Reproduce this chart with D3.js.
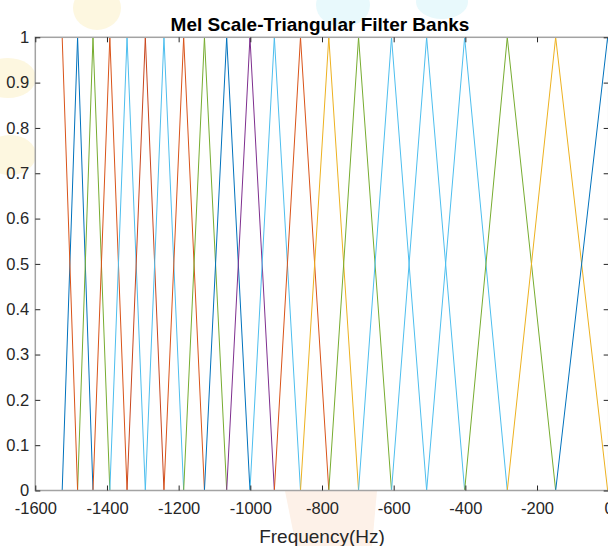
<!DOCTYPE html>
<html>
<head>
<meta charset="utf-8">
<script src="https://d3js.org/d3.v7.min.js"></script>
<style>
  body { margin: 0; background: #fff; }
  svg { display: block; font-family: "Liberation Sans", Arial, sans-serif; }
</style>
</head>
<body>
<svg width="608" height="546"></svg>
<script>
// filter peak frequencies (Hz)
var peakHz = [-1525, -1482, -1439, -1392, -1344, -1293, -1241, -1186, -1128, -1066,
              -1001, -933, -860, -781, -698, -606, -508, -402, -283, -148, -3];
var peakColor = ["#D95319", "#0072BD", "#77AC30", "#D95319", "#4DBEEE", "#C8461E", "#4DBEEE",
                 "#D95319", "#77AC30", "#0072BD", "#7E2F8E", "#4DBEEE", "#D95319", "#EDB120",
                 "#77AC30", "#4DBEEE", "#4DBEEE", "#4DBEEE", "#77AC30", "#EDB120", "#0072BD"];
var hzStart = -1525, hzEnd = 0, lastFootHz = 160;

var xTicks = [-1600, -1400, -1200, -1000, -800, -600, -400, -200, 0];
var xTickLabels = ["-1600", "-1400", "-1200", "-1000", "-800", "-600", "-400", "-200", "0"];
var yTicks = [0, 0.1, 0.2, 0.3, 0.4, 0.5, 0.6, 0.7, 0.8, 0.9, 1];
var yTickLabels = ["0", "0.1", "0.2", "0.3", "0.4", "0.5", "0.6", "0.7", "0.8", "0.9", "1"];

var svg = d3.select("svg");

// axes box in pixels (window.top is reserved, so plot* names)
var plotL = 35.3, plotR = 608.7, plotT = 37.3, plotB = 490.5;

var x = d3.scaleLinear().domain([-1600, 0]).range([plotL, plotR]);
var y = d3.scaleLinear().domain([0, 1]).range([plotB, plotT]);

// faint watermark blobs behind the axes
var blobs = svg.append("g").attr("class", "blobs");
blobs.append("ellipse").attr("cx", 97).attr("cy", 8).attr("rx", 24).attr("ry", 22).attr("fill", "#fdf7e0");
blobs.append("ellipse").attr("cx", 8).attr("cy", 78).attr("rx", 28).attr("ry", 20).attr("fill", "#fdf7e0");
blobs.append("ellipse").attr("cx", 10).attr("cy", 155).attr("rx", 26).attr("ry", 20).attr("fill", "#fdf7e0");
blobs.append("ellipse").attr("cx", 343).attr("cy", 5).attr("rx", 27).attr("ry", 22).attr("fill", "#e8f9fc");
blobs.append("ellipse").attr("cx", 442).attr("cy", 2).attr("rx", 26).attr("ry", 17).attr("fill", "#e8f9fc");
blobs.append("path").attr("d", "M285,491 L377,491 L372,546 L296,546 Z").attr("fill", "#fdf1e8");

svg.append("rect")
    .attr("x", plotL).attr("y", plotT)
    .attr("width", plotR - plotL).attr("height", plotB - plotT)
    .attr("fill", "#fff");

svg.append("clipPath").attr("id", "plotclip")
  .append("rect")
    .attr("x", plotL).attr("y", plotT - 1)
    .attr("width", plotR - plotL).attr("height", plotB - plotT + 2);

function filterPoints(i) {
  var n = peakHz.length;
  var lo = i > 0 ? peakHz[i - 1] : null;
  var hi = i < n - 1 ? peakHz[i + 1] : lastFootHz;
  var p = [];
  if (lo !== null) {
    if (lo > hzStart) p.push([hzStart, 0]);
    p.push([lo, 0]);
  }
  p.push([peakHz[i], 1]);
  p.push([hi, 0]);
  if (hi < hzEnd) p.push([hzEnd, 0]);
  return p;
}

var line = d3.line()
    .x(function(d) { return x(d[0]); })
    .y(function(d) { return y(d[1]); });

// draw 2..n first, the first filter last so its zeros make the baseline
var order = d3.range(1, peakHz.length).concat([0]);

svg.append("g")
    .attr("clip-path", "url(#plotclip)")
  .selectAll("path")
  .data(order)
  .enter().append("path")
    .attr("d", function(i) { return line(filterPoints(i)); })
    .attr("fill", "none")
    .attr("stroke", function(i) { return peakColor[i]; })
    .attr("stroke-width", 1)
    .attr("stroke-linejoin", "miter");

// axes box
svg.append("rect")
    .attr("x", plotL).attr("y", plotT)
    .attr("width", plotR - plotL).attr("height", plotB - plotT)
    .attr("fill", "none")
    .attr("stroke", "#a3a3a3")
    .attr("stroke-width", 1.5);

svg.append("g")
    .attr("transform", "translate(0," + plotB + ")")
    .call(d3.axisBottom(x).tickValues(xTicks)
      .tickFormat(function(d, i) { return xTickLabels[i]; })
      .tickSizeInner(-5).tickSizeOuter(0).tickPadding(12));

svg.append("g")
    .attr("transform", "translate(0," + plotT + ")")
    .call(d3.axisTop(x).tickValues(xTicks).tickFormat("")
      .tickSizeInner(-5).tickSizeOuter(0));

svg.append("g")
    .attr("transform", "translate(" + plotL + ",0)")
    .call(d3.axisLeft(y).tickValues(yTicks)
      .tickFormat(function(d, i) { return yTickLabels[i]; })
      .tickSizeInner(-5).tickSizeOuter(0).tickPadding(6));

svg.append("g")
    .attr("transform", "translate(" + plotR + ",0)")
    .call(d3.axisRight(y).tickValues(yTicks).tickFormat("")
      .tickSizeInner(-5).tickSizeOuter(0));

svg.selectAll(".domain").remove();
svg.selectAll(".tick line").attr("stroke", "#262626");
svg.selectAll(".tick text")
    .attr("fill", "#262626")
    .style("font-size", "16.5px")
    .style("font-family", "'Liberation Sans', Arial, sans-serif");

svg.append("text")
    .attr("x", (plotL + plotR) / 2).attr("y", 543)
    .attr("text-anchor", "middle")
    .attr("fill", "#262626")
    .style("font-size", "19px")
    .text("Frequency(Hz)");

svg.append("text")
    .attr("x", 320).attr("y", 31)
    .attr("text-anchor", "middle")
    .attr("fill", "#000")
    .style("font-size", "19px")
    .style("font-weight", "bold")
    .text("Mel Scale-Triangular Filter Banks");
</script>
</body>
</html>
